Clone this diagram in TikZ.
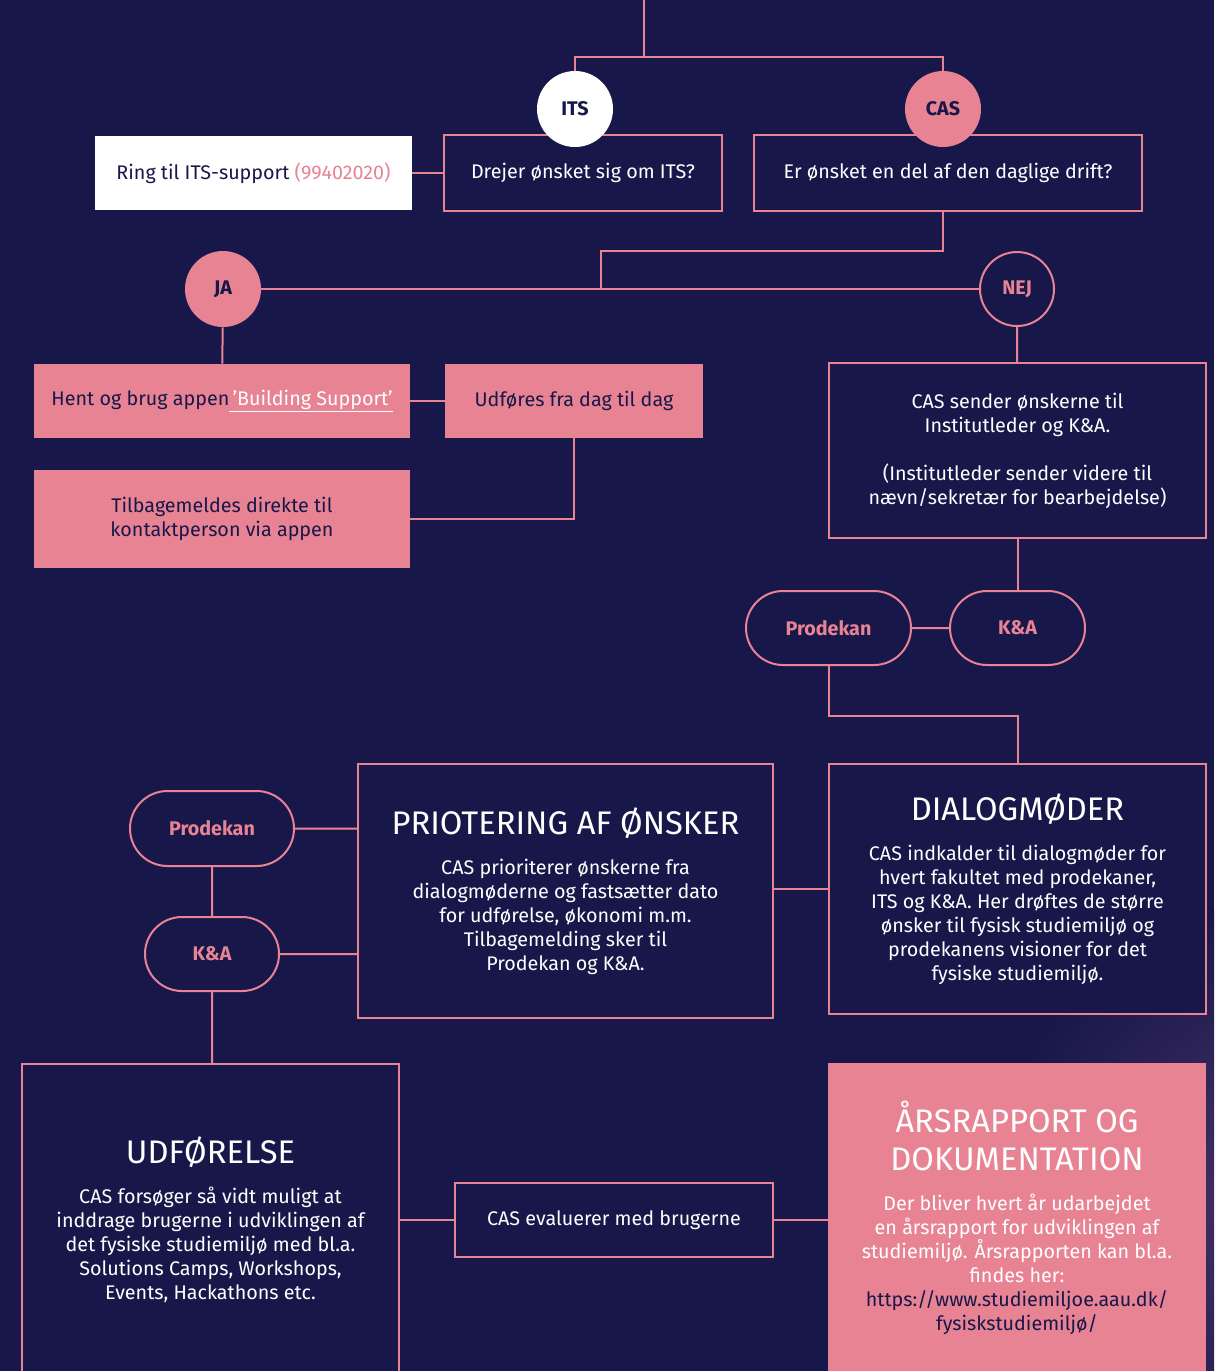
\documentclass[tikz,border=0pt]{standalone}
\usepackage{fontspec}
\setmainfont{Fira Sans}
\usetikzlibrary{shapes.misc}
\definecolor{bg}{HTML}{18174A}
\definecolor{pk}{HTML}{E88394}
\definecolor{glow}{HTML}{4A3466}
\def\px{0.75pt}
\newcommand{\bodyf}{\fontsize{14.8pt}{18pt}\selectfont}
\newcommand{\ttlf}{\fontsize{24.5pt}{28pt}\selectfont}
\begin{document}
\begin{tikzpicture}[x=0.75pt,y=-0.75pt,
  conn/.style={draw=pk,line width=1.5pt},
  darkbox/.style={draw=pk,line width=1.5pt,fill=bg,text=white,align=center,font=\bodyf,inner sep=0pt},
  pinkbox/.style={fill=pk,text=bg,align=center,font=\bodyf,inner sep=0pt},
  pill/.style={rounded rectangle,draw=pk,line width=1.5pt,fill=bg,text=pk,font=\bodyf\bfseries,inner sep=0pt},
  circ/.style={circle,inner sep=0pt,font=\bodyf\bfseries,minimum size={76*\px}}]
\fill[bg] (0,0) rectangle (1214,1371);
\begin{scope}
\clip (0,0) rectangle (1214,1371);
\shade[inner color=glow,outer color=bg] (1290,1200) circle (300);
\end{scope}
\useasboundingbox (0,0) rectangle (1214,1371);

% top row
\node[darkbox,minimum width={278*\px},minimum height={76*\px}] (drejer) at (583,173) {Drejer ønsket sig om ITS?};
\node[darkbox,minimum width={388*\px},minimum height={76*\px}] (casbox) at (948,173) {Er ønsket en del af den daglige drift?};
\node[fill=white,text=bg,font=\bodyf,inner sep=0pt,minimum width={317*\px},minimum height={74*\px}] (ring) at (253.5,173) {Ring til ITS-support \textcolor{pk}{(99402020)}};
\node[circ,fill=white,text=bg] (its) at (575,109) {ITS};
\node[circ,fill=pk,text=bg] (casc) at (943,109) {CAS};
\coordinate (t0) at (644,0);
\coordinate (t1) at (644,57);
\draw[conn] (t0) -- (t1);
\draw[conn] (t1) -| (its.north);
\draw[conn] (t1) -| (casc.north);
\draw[conn] (ring) -- (drejer);

% JA / NEJ
\node[circ,fill=pk,text=bg] (ja) at (223,289) {JA};
\node[circ,draw=pk,line width=1.5pt,fill=bg,text=pk,minimum size={74*\px}] (nej) at (1017,289) {NEJ};
\coordinate (m1) at (601,251);
\draw[conn] (casbox.south -| casc.center) |- (m1) -- (m1 |- ja.center);
\draw[conn] (ja) -- (nej);

% JA branch
\node[pinkbox,minimum width={376*\px},minimum height={74*\px}] (hent) at (222,401) {Hent og brug appen\textcolor{white}{\underline{\,'Building Support'}}};
\node[pinkbox,minimum width={258*\px},minimum height={74*\px}] (udf1) at (574,401) {Udføres fra dag til dag};
\node[pinkbox,minimum width={376*\px},minimum height={98*\px}] (tilb) at (222,519) {Tilbagemeldes direkte til\\kontaktperson via appen};
\draw[conn] (ja) -- (hent);
\draw[conn] (hent) -- (udf1);
\draw[conn] (udf1.south) |- (tilb.east);

% NEJ branch
\node[darkbox,minimum width={377*\px},minimum height={175*\px}] (sender) at (1017.5,450.5) {CAS sender ønskerne til\\Institutleder og K\&A.\\[18pt](Institutleder sender videre til\\nævn/sekretær for bearbejdelse)};
\node[pill,minimum width={165*\px},minimum height={74*\px}] (prod1) at (828.5,628) {Prodekan};
\node[pill,minimum width={135*\px},minimum height={74*\px}] (ka1) at (1017.5,628) {K\&A};
\draw[conn] (nej) -- (sender);
\draw[conn] (sender.south) -- (ka1.north);
\draw[conn] (prod1) -- (ka1);

% middle row
\node[darkbox,minimum width={377*\px},minimum height={250*\px}] (dialog) at (1017.5,889) {{\ttlf DIALOGMØDER}\\[12pt]CAS indkalder til dialogmøder for\\hvert fakultet med prodekaner,\\ITS og K\&A. Her drøftes de større\\ønsker til fysisk studiemiljø og\\prodekanens visioner for det\\fysiske studiemiljø.};
\node[darkbox,minimum width={415*\px},minimum height={254*\px}] (prior) at (565.5,891) {{\ttlf PRIOTERING AF ØNSKER}\\[12pt]CAS prioriterer ønskerne fra\\dialogmøderne og fastsætter dato\\for udførelse, økonomi m.m.\\Tilbagemelding sker til\\Prodekan og K\&A.};
\coordinate (m2) at (1017.5,716);
\draw[conn] (prod1.south) |- (m2) -- (dialog.north);
\draw[conn] (dialog.west) -- (dialog.west -| prior.east);
\node[pill,minimum width={164*\px},minimum height={75*\px}] (prod2) at (212,828.5) {Prodekan};
\node[pill,minimum width={134*\px},minimum height={74*\px}] (ka2) at (212,954) {K\&A};
\draw[conn] (prod2) -- (prod2 -| prior.west);
\draw[conn] (ka2) -- (ka2 -| prior.west);
\draw[conn] (prod2) -- (ka2);

% bottom row
\node[darkbox,minimum width={377*\px},minimum height={312*\px}] (udfbox) at (210.5,1220) {{\ttlf UDFØRELSE}\\[12pt]CAS forsøger så vidt muligt at\\inddrage brugerne i udviklingen af\\det fysiske studiemiljø med bl.a.\\Solutions Camps, Workshops,\\Events, Hackathons etc.};
\node[darkbox,minimum width={318*\px},minimum height={74*\px}] (eval) at (614,1220) {CAS evaluerer med brugerne};
\node[pinkbox,text=white,minimum width={378*\px},minimum height={310*\px}] (aars) at (1017,1218) {{\ttlf ÅRSRAPPORT OG}\\[10.5pt]{\ttlf DOKUMENTATION}\\[12pt]Der bliver hvert år udarbejdet\\en årsrapport for udviklingen af\\studiemiljø. Årsrapporten kan bl.a.\\findes her:\\\textcolor{bg}{https://www.studiemiljoe.aau.dk/}\\\textcolor{bg}{fysiskstudiemiljø/}};
\draw[conn] (ka2) -- (ka2 |- udfbox.north);
\draw[conn] (eval -| udfbox.east) -- (eval);
\draw[conn] (eval) -- (eval -| aars.west);
\end{tikzpicture}
\end{document}
